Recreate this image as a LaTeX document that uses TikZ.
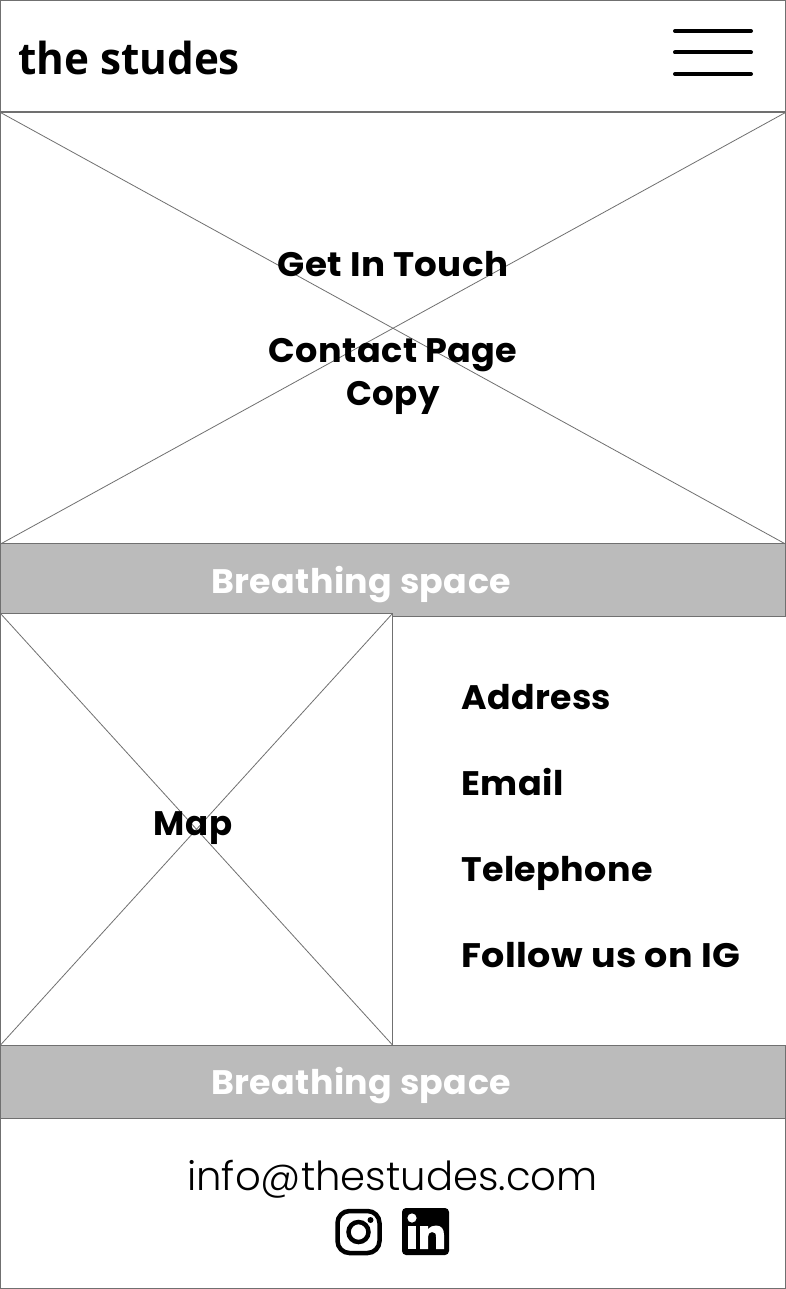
\documentclass[tikz,border=0pt]{standalone}
\usepackage{fontspec}
\usepackage{graphicx}
\setmainfont{Poppins}
\newfontfamily\logofont{Open Sans}
\newfontfamily\lightfont{Poppins Light}
\newfontfamily\headfont{Poppins Bold}[LetterSpace=1.2]
\newcommand{\hs}[2]{\scalebox{#1}[1]{#2}}
\definecolor{edge}{HTML}{707070}
\definecolor{band}{HTML}{BBBBBB}
\tikzset{
  boxarea/.style={draw=edge,line width=1pt,fill=white,inner sep=0pt,outer sep=0pt,anchor=north west},
  bandarea/.style={draw=edge,line width=1pt,fill=band,inner sep=0pt,outer sep=0pt,anchor=north west},
  crossline/.style={draw=edge,line width=.8pt},
  head/.style={font=\headfont\fontsize{34}{43}\selectfont,text=black,inner sep=0pt,align=center},
  bandtext/.style={head,text=white},
  burger/.style={line width=4pt,line cap=round,draw=black}
}
\begin{document}
\begin{tikzpicture}[x=1pt,y=-1pt]
\useasboundingbox (0,0) rectangle (786,1289);
% frames
\node[boxarea,minimum width=785pt,minimum height=111pt] (top) at (.5,.5) {};
\node[boxarea,minimum width=785pt,minimum height=431.5pt] (hero) at (.5,112.5) {};
\node[boxarea,minimum width=785pt,minimum height=170pt] (foot) at (.5,1118.5) {};
\node[bandarea,minimum width=785pt,minimum height=73pt] (band1) at (.5,543.5) {};
\node[boxarea,minimum width=392pt,minimum height=431.5pt] (map) at (.5,613.5) {};
\node[bandarea,minimum width=785pt,minimum height=72.5pt] (band2) at (.5,1045.5) {};
\draw[edge,line width=1pt] (band1.north west) -- (band1.north east);
\draw[crossline] (hero.north west) -- (hero.south east);
\draw[crossline] (hero.north east) -- (hero.south west);
\draw[crossline] (map.north west) -- (map.south east);
\draw[crossline] (map.north east) -- (map.south west);
% logo
\node[font=\logofont\bfseries\fontsize{44}{50}\selectfont,inner sep=0pt,anchor=base west] (logo) at (18,75) {\hs{0.96}{the studes}};
% burger
\coordinate (b1a) at (675,31); \coordinate (b1b) at (751,31);
\coordinate (b2a) at (675,52.5); \coordinate (b2b) at (751,52.5);
\coordinate (b3a) at (675,74); \coordinate (b3b) at (751,74);
\draw[burger] (b1a) -- (b1b);
\draw[burger] (b2a) -- (b2b);
\draw[burger] (b3a) -- (b3b);
% hero text
\node[head,anchor=base] (t1) at (393,276) {\hs{1.05}{Get In Touch}};
\node[head,anchor=base] (t2) at (393,362) {\hs{1.03}{Contact Page}};
\node[head,anchor=base] (t3) at (393,405) {Copy};
\node[bandtext,anchor=base] (b1t) at (361,593) {\hs{1.024}{Breathing space}};
\node[bandtext,anchor=base] (b2t) at (361,1094) {\hs{1.024}{Breathing space}};
\node[head,anchor=base] (mapt) at (193,835) {Map};
\node[head,anchor=base west] (addr) at (461,709) {\hs{1.02}{Address}};
\node[head,anchor=base west] (mail) at (461,795) {\hs{1.03}{Email}};
\node[head,anchor=base west] (tel) at (461,881) {\hs{1.027}{Telephone}};
\node[head,anchor=base west] (ig) at (461,967) {\hs{1.073}{Follow us on IG}};
\node[font=\lightfont\fontsize{40}{48}\selectfont,inner sep=0pt,anchor=base] (info) at (392.5,1190) {\hs{1.005}{info@thestudes.com}};
% instagram icon
\draw[black,line width=4.5pt,rounded corners=12pt] (337.5,1211) rectangle (379.5,1253);
\draw[black,line width=4.5pt] (358.5,1232) circle (10pt);
\fill[black] (370.5,1220) circle (3pt);
% linkedin icon
\fill[black,rounded corners=4pt] (402,1208) rectangle (449,1255);
\fill[white] (408,1226) rectangle (416,1249);
\fill[white] (412,1218) circle (4.6pt);
\fill[white] (420,1226) -- (428,1226) -- (428,1229.5)
  .. controls (430,1226.5) and (433,1225.5) .. (436,1225.5)
  .. controls (441.5,1225.5) and (444,1229) .. (444,1235)
  -- (444,1249) -- (436,1249) -- (436,1237)
  .. controls (436,1233.5) and (435,1232) .. (432,1232)
  .. controls (429.5,1232) and (428,1234) .. (428,1237)
  -- (428,1249) -- (420,1249) -- cycle;
\end{tikzpicture}
\end{document}
